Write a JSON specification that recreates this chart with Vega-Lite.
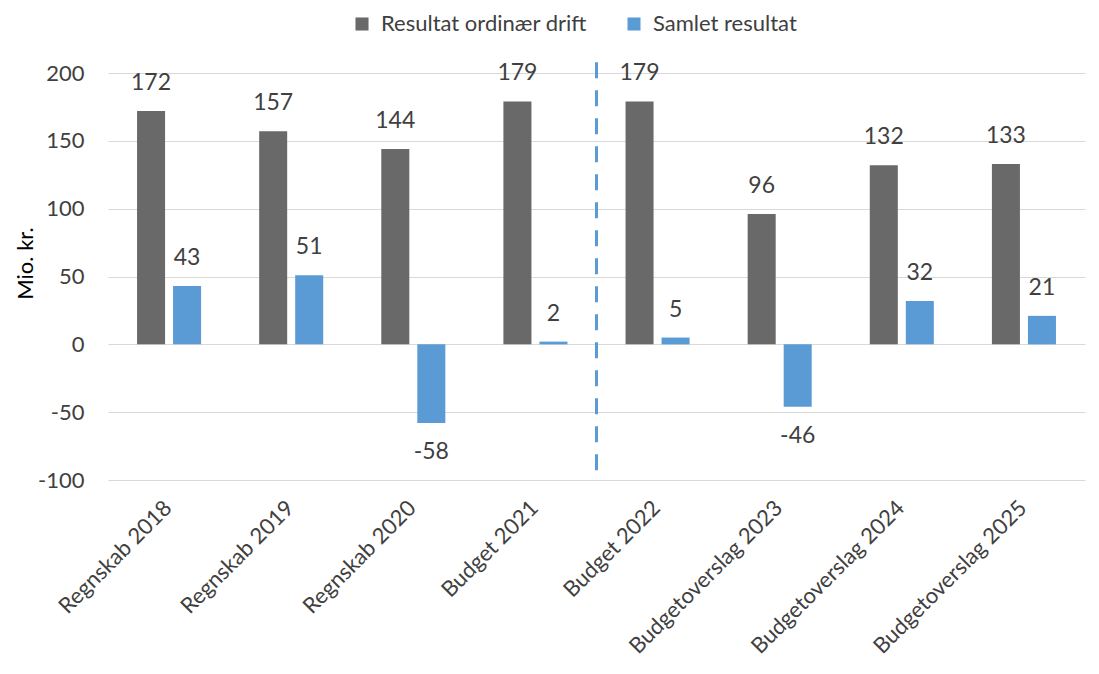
{
  "$schema": "https://vega.github.io/schema/vega-lite/v6.json",
  "width": 977,
  "height": 407,
  "autosize": {"type": "none"},
  "padding": {"left": 108, "top": 73, "right": 14, "bottom": 194},
  "background": "white",
  "config": {
    "view": {"stroke": null},
    "font": "Lato",
    "axis": {"labelFont": "Lato", "titleFont": "Lato"},
    "legend": {"labelFont": "Lato"}
  },
  "datasets": {
    "bars": [
      {"kategori": "Regnskab 2018", "serie": "Resultat ordinær drift", "vaerdi": 172},
      {"kategori": "Regnskab 2018", "serie": "Samlet resultat", "vaerdi": 43},
      {"kategori": "Regnskab 2019", "serie": "Resultat ordinær drift", "vaerdi": 157},
      {"kategori": "Regnskab 2019", "serie": "Samlet resultat", "vaerdi": 51},
      {"kategori": "Regnskab 2020", "serie": "Resultat ordinær drift", "vaerdi": 144},
      {"kategori": "Regnskab 2020", "serie": "Samlet resultat", "vaerdi": -58},
      {"kategori": "Budget 2021", "serie": "Resultat ordinær drift", "vaerdi": 179},
      {"kategori": "Budget 2021", "serie": "Samlet resultat", "vaerdi": 2},
      {"kategori": "Budget 2022", "serie": "Resultat ordinær drift", "vaerdi": 179},
      {"kategori": "Budget 2022", "serie": "Samlet resultat", "vaerdi": 5},
      {"kategori": "Budgetoverslag 2023", "serie": "Resultat ordinær drift", "vaerdi": 96},
      {"kategori": "Budgetoverslag 2023", "serie": "Samlet resultat", "vaerdi": -46},
      {"kategori": "Budgetoverslag 2024", "serie": "Resultat ordinær drift", "vaerdi": 132},
      {"kategori": "Budgetoverslag 2024", "serie": "Samlet resultat", "vaerdi": 32},
      {"kategori": "Budgetoverslag 2025", "serie": "Resultat ordinær drift", "vaerdi": 133},
      {"kategori": "Budgetoverslag 2025", "serie": "Samlet resultat", "vaerdi": 21}
    ],
    "skillelinje": [
      {"kategori": "Budget 2022", "top": 208, "bund": -93}
    ]
  },
  "layer": [
    {
      "data": {"name": "bars"},
      "mark": {"type": "bar"},
      "encoding": {
        "x": {
          "field": "kategori", "type": "nominal", "sort": null,
          "scale": {"paddingInner": 0, "paddingOuter": 0},
          "axis": {
            "title": null, "domain": false, "ticks": false, "labelAngle": -45,
            "labelFontSize": 22, "labelColor": "#404040", "labelPadding": 17, "labelOffset": -8,
            "labelAlign": "right", "labelBaseline": "top", "labelLimit": 400
          }
        },
        "xOffset": {
          "field": "serie", "type": "nominal",
          "sort": ["Resultat ordinær drift", "Samlet resultat"],
          "scale": {"paddingInner": 0.222, "paddingOuter": 0.806}
        },
        "y": {
          "field": "vaerdi", "type": "quantitative",
          "scale": {"domain": [-100, 200], "nice": false, "zero": false},
          "axis": {
            "title": "Mio. kr.", "titleFontSize": 22, "titleFontWeight": "normal",
            "titleColor": "#000000", "titleAngle": -90, "titleX": -83, "titleY": 190,
            "titleAlign": "center", "titleBaseline": "middle",
            "values": [-100, -50, 0, 50, 100, 150, 200],
            "labelExpr": "replace(datum.label, '−', '-')",
            "domain": false, "ticks": false, "labelFontSize": 22, "labelColor": "#404040",
            "labelPadding": 24, "gridColor": "#D9D9D9", "gridWidth": 1
          }
        },
        "color": {
          "field": "serie", "type": "nominal",
          "sort": ["Resultat ordinær drift", "Samlet resultat"],
          "scale": {"domain": ["Resultat ordinær drift", "Samlet resultat"], "range": ["#696969", "#5B9BD5"]},
          "legend": {
            "title": null, "orient": "none", "direction": "horizontal",
            "legendX": 243, "legendY": -60, "symbolType": "square", "symbolSize": 170,
            "symbolStrokeWidth": 0, "labelFontSize": 22, "labelColor": "#404040",
            "labelLimit": 400, "columnPadding": 36, "labelOffset": 8
          }
        }
      }
    },
    {
      "data": {"name": "bars"},
      "transform": [{"filter": "datum.vaerdi >= 0"}],
      "mark": {"type": "text", "fontSize": 23, "color": "#404040", "baseline": "middle", "dy": -28},
      "encoding": {
        "x": {"field": "kategori", "type": "nominal", "sort": null},
        "xOffset": {"field": "serie", "type": "nominal", "sort": ["Resultat ordinær drift", "Samlet resultat"]},
        "y": {"field": "vaerdi", "type": "quantitative"},
        "text": {"field": "vaerdi", "type": "nominal"}
      }
    },
    {
      "data": {"name": "bars"},
      "transform": [{"filter": "datum.vaerdi < 0"}],
      "mark": {"type": "text", "fontSize": 23, "color": "#404040", "baseline": "middle", "dy": 29},
      "encoding": {
        "x": {"field": "kategori", "type": "nominal", "sort": null},
        "xOffset": {"field": "serie", "type": "nominal", "sort": ["Resultat ordinær drift", "Samlet resultat"]},
        "y": {"field": "vaerdi", "type": "quantitative"},
        "text": {"field": "vaerdi", "type": "nominal"}
      }
    },
    {
      "data": {"name": "skillelinje"},
      "mark": {"type": "rule", "color": "#5B9BD5", "strokeWidth": 3, "strokeDash": [16, 12]},
      "encoding": {
        "x": {"field": "kategori", "type": "nominal", "sort": null, "bandPosition": 0},
        "y": {"field": "top", "type": "quantitative"},
        "y2": {"field": "bund"}
      }
    }
  ]
}
